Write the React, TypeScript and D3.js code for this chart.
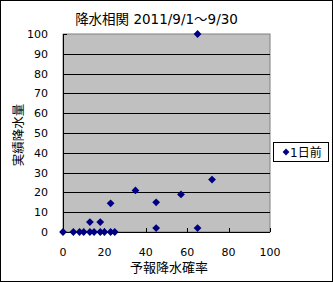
import React from "react";
import * as d3 from "d3";

const xValues = [0, 5, 8, 10, 13, 15, 18, 20, 23, 25, 13, 18, 23, 35, 45, 45, 57, 65, 72, 65];
const yValues = [0, 0, 0, 0, 0, 0, 0, 0, 0, 0, 5, 5, 14.5, 21, 15, 2, 19, 2, 26.5, 100];
const xTicks = [0, 20, 40, 60, 80, 100];
const yTicks = [0, 10, 20, 30, 40, 50, 60, 70, 80, 90, 100];
const title = "降水相関 2011/9/1～9/30";
const xTitle = "予報降水確率";
const yTitle = "実績降水量";
const seriesName = "1日前";

const W = 333, H = 282;
const plot = { l: 63, t: 34, r: 270, b: 232 };
const font = "'DejaVu Sans', 'Noto Sans CJK JP', sans-serif";
const navy = "#000080";

export default function App() {
  const x = d3.scaleLinear().domain([0, 100]).range([plot.l, plot.r]);
  const y = d3.scaleLinear().domain([0, 100]).range([plot.b, plot.t]);
  const diamond = (cx: number, cy: number, s = 3.9) =>
    `M${cx},${cy - s}L${cx + s},${cy}L${cx},${cy + s}L${cx - s},${cy}Z`;
  return (
    <svg width={W} height={H} style={{ position: "absolute", left: 0, top: 0 }}>
      <rect x={0.5} y={0.5} width={W - 1} height={H - 1} fill="#fff" stroke="#000" />
      <text x={156.5} y={24} fontFamily={font} fontSize={13.5} textAnchor="middle">{title}</text>
      <rect x={plot.l} y={plot.t} width={plot.r - plot.l} height={plot.b - plot.t} fill="#c0c0c0" stroke="#808080" />
      {yTicks.filter(v => v > 0 && v < 100).map(v => (
        <line key={v} x1={plot.l} x2={plot.r} y1={Math.round(y(v)) + 0.5} y2={Math.round(y(v)) + 0.5} stroke="#000" />
      ))}
      <line x1={plot.l + 0.5} x2={plot.l + 0.5} y1={plot.t} y2={plot.b} stroke="#000" />
      <line x1={plot.l} x2={plot.r} y1={plot.b + 0.5} y2={plot.b + 0.5} stroke="#000" />
      {yTicks.map(v => (
        <g key={v}>
          <line x1={plot.l} x2={plot.l + 4} y1={Math.round(y(v)) + 0.5} y2={Math.round(y(v)) + 0.5} stroke="#000" />
          <text x={48} y={y(v) + 4} fontFamily={font} fontSize={11} textAnchor="end">{v}</text>
        </g>
      ))}
      {xTicks.map(v => (
        <g key={v}>
          <line x1={Math.round(x(v)) + 0.5} x2={Math.round(x(v)) + 0.5} y1={plot.b} y2={plot.b - 4} stroke="#000" />
          <text x={x(v)} y={256} fontFamily={font} fontSize={11} textAnchor="middle">{v}</text>
        </g>
      ))}
      <text x={169} y={271.5} fontFamily={font} fontSize={13} textAnchor="middle">{xTitle}</text>
      <text transform={`translate(22.5,135) rotate(-90)`} fontFamily={font} fontSize={12.5} textAnchor="middle">{yTitle}</text>
      {xValues.map((v, i) => (
        <path key={i} d={diamond(x(v), y(yValues[i]))} fill={navy} />
      ))}
      <rect x={273.5} y={142.5} width={55} height={19} fill="#fff" stroke="#000" />
      <path d={diamond(286, 152, 3.4)} fill={navy} />
      <text x={290} y={156.5} fontFamily={font} fontSize={12}>{seriesName}</text>
    </svg>
  );
}
